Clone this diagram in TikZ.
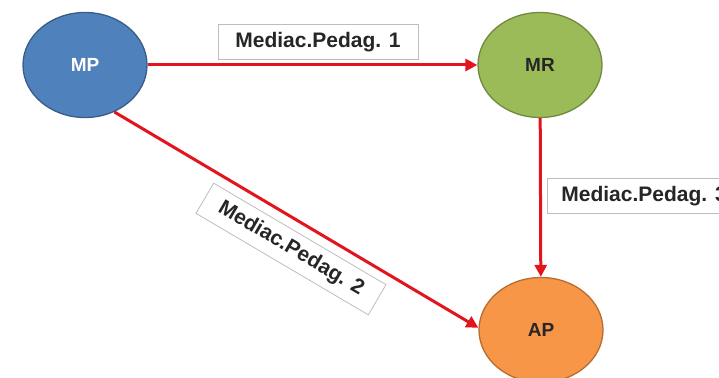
\documentclass[tikz,border=0pt]{standalone}
\usepackage{fontspec}
\setmainfont{Liberation Sans}
\usetikzlibrary{shapes.geometric,arrows.meta}
\definecolor{mpblue}{HTML}{4F81BD}
\definecolor{mpborder}{HTML}{385D8A}
\definecolor{mrgreen}{HTML}{9BBB59}
\definecolor{mrborder}{HTML}{71893F}
\definecolor{aporange}{HTML}{F79646}
\definecolor{apborder}{HTML}{B66D31}
\definecolor{linkred}{HTML}{E3141B}
\definecolor{boxgray}{HTML}{BDBDBD}
\tikzset{
  blob/.style={ellipse, minimum width=124pt, minimum height=105pt, line width=1.3pt, inner sep=0pt,
    font=\fontsize{19}{19}\selectfont\bfseries},
  lab/.style={draw=boxgray, fill=white, line width=0.8pt, minimum width=200pt, minimum height=35pt,
    inner sep=0pt, font=\fontsize{21}{21}\selectfont\bfseries, text=black!85},
  link/.style={draw=linkred, line width=3pt, -{Triangle[length=12pt,width=12pt]}}
}
\begin{document}
\begin{tikzpicture}[x=1pt,y=-1pt]
\clip (0,0) rectangle (719,377);
\useasboundingbox (0,0) rectangle (719,377);
\node[blob, fill=mpblue, draw=mpborder, text=white] (mp) at (85,65) {MP};
\node[blob, fill=mrgreen, draw=mrborder, text=black!85] (mr) at (540,65) {MR};
\node[blob, fill=aporange, draw=apborder, text=black!85] (ap) at (541,330) {AP};
\draw[link] (mp) -- (mr);
\draw[link] (mr) -- (ap);
\draw[link] (mp.-58) -- (ap.178);
\node[lab] (l1) at (318,42) {Mediac.Pedag. 1};
\node[lab, rotate=-30.5] (l2) at (291,249) {Mediac.Pedag. 2};
\node[lab, anchor=west, minimum width=0pt, inner xsep=14pt] (l3) at (547,196) {Mediac.Pedag. 3};
\end{tikzpicture}
\end{document}
